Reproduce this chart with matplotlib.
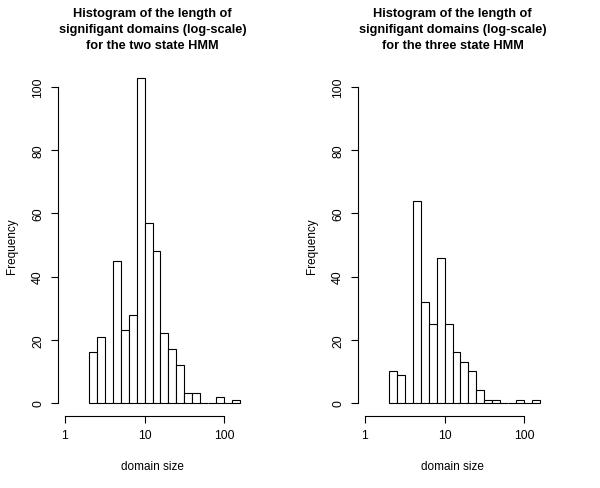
import numpy as np
import matplotlib
matplotlib.use("Agg")
import matplotlib.pyplot as plt

# histogram of log10(domain size), bins of width 0.1 from 0.3 to 2.2
bin_edges = np.round(np.arange(0.3, 2.25, 0.1), 1)
counts_two = [16, 21, 0, 45, 23, 28, 103, 57, 48, 22, 17, 12, 3, 3, 0, 0, 2, 0, 1]
counts_three = [10, 9, 0, 64, 32, 25, 46, 25, 16, 13, 10, 4, 1, 1, 0, 0, 1, 0, 1]
titles = ["Histogram of the length of\nsignifigant domains (log-scale)\nfor the two state HMM",
          "Histogram of the length of\nsignifigant domains (log-scale)\nfor the three state HMM"]
x_ticks = [0, 1, 2]
x_labels = ["1", "10", "100"]
y_ticks = [0, 20, 40, 60, 80, 100]

plt.rcParams['font.family'] = ['Liberation Sans', 'DejaVu Sans']

fig = plt.figure(figsize=(6, 4.89), dpi=100)
W, H = 600, 489

for k, counts in enumerate([counts_two, counts_three]):
    left = 58 + 300 * k
    ax = fig.add_axes([left / W, 1 - 416.6 / H, 189 / W, (416.6 - 75.4) / H])
    ax.bar(bin_edges[:-1], counts, width=0.1, align='edge',
           facecolor='white', edgecolor='black', linewidth=0.8)
    ax.set_xlim(-0.088, 2.288)
    ax.set_ylim(-4, 104)
    for s in ['top', 'right']:
        ax.spines[s].set_visible(False)
    ax.spines['bottom'].set_bounds(0, 2)
    ax.spines['left'].set_bounds(0, 100)
    ax.spines['bottom'].set_linewidth(0.8)
    ax.spines['left'].set_linewidth(0.8)
    ax.set_xticks(x_ticks)
    ax.set_xticklabels(x_labels)
    ax.set_yticks(y_ticks)
    ax.tick_params(axis='both', labelsize=8.8, length=5, width=0.8, pad=5)
    ax.tick_params(axis='y', labelrotation=90)
    for lab in ax.get_yticklabels():
        lab.set_va('center')
    ax.set_xlabel("domain size", fontsize=8.5)
    ax.xaxis.set_label_coords(0.5, -(467 - 416.6) / 341.2)
    ax.xaxis.label.set_va('center')
    ax.set_ylabel("Frequency", fontsize=8.5)
    ax.yaxis.set_label_coords(-(left - 300 * k - 12) / 189, 0.5)
    ax.yaxis.label.set_va('center')
    fig.text((left + 94.5) / W, 1 - 30 / H, titles[k], ha='center', va='center',
             fontsize=9.2, fontweight='bold', linespacing=1.4)

fig.savefig("out.png", dpi=100)
